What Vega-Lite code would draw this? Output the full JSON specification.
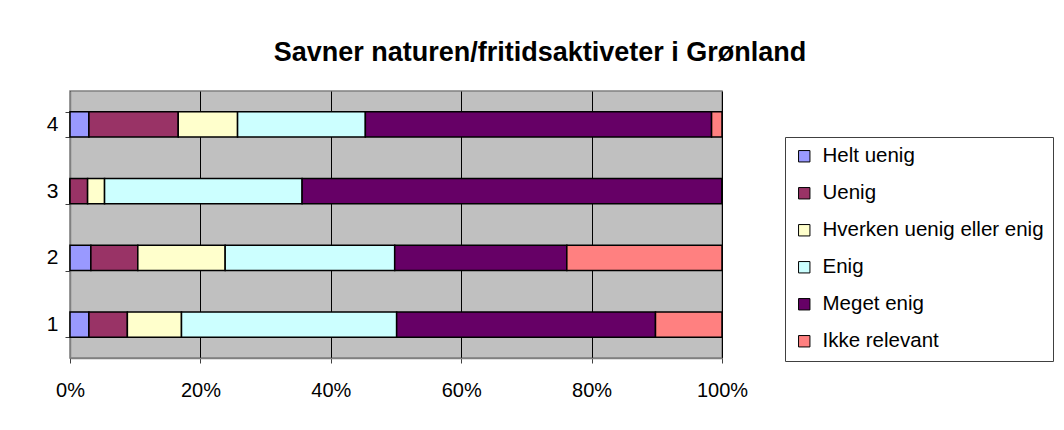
{
  "$schema": "https://vega.github.io/schema/vega-lite/v6.json",
  "autosize": {"type": "none"},
  "width": 652,
  "height": 267,
  "padding": {"left": 70, "top": 91, "right": 342, "bottom": 72},
  "background": "white",
  "title": {
    "text": "Savner naturen/fritidsaktiveter i Grønland",
    "font": "Liberation Sans",
    "fontSize": 27,
    "fontWeight": "bold",
    "color": "black",
    "anchor": "middle",
    "dx": 144,
    "offset": 13
  },
  "data": {
    "values": [
      {"q": "4", "svar": "Helt uenig", "k": 1, "v": 2.9},
      {"q": "4", "svar": "Uenig", "k": 2, "v": 13.7},
      {"q": "4", "svar": "Hverken uenig eller enig", "k": 3, "v": 9.1},
      {"q": "4", "svar": "Enig", "k": 4, "v": 19.6},
      {"q": "4", "svar": "Meget enig", "k": 5, "v": 53.1},
      {"q": "4", "svar": "Ikke relevant", "k": 6, "v": 1.6},
      {"q": "3", "svar": "Helt uenig", "k": 1, "v": 0},
      {"q": "3", "svar": "Uenig", "k": 2, "v": 2.7},
      {"q": "3", "svar": "Hverken uenig eller enig", "k": 3, "v": 2.6},
      {"q": "3", "svar": "Enig", "k": 4, "v": 30.3},
      {"q": "3", "svar": "Meget enig", "k": 5, "v": 64.4},
      {"q": "3", "svar": "Ikke relevant", "k": 6, "v": 0},
      {"q": "2", "svar": "Helt uenig", "k": 1, "v": 3.2},
      {"q": "2", "svar": "Uenig", "k": 2, "v": 7.2},
      {"q": "2", "svar": "Hverken uenig eller enig", "k": 3, "v": 13.4},
      {"q": "2", "svar": "Enig", "k": 4, "v": 26.0},
      {"q": "2", "svar": "Meget enig", "k": 5, "v": 26.4},
      {"q": "2", "svar": "Ikke relevant", "k": 6, "v": 23.8},
      {"q": "1", "svar": "Helt uenig", "k": 1, "v": 2.9},
      {"q": "1", "svar": "Uenig", "k": 2, "v": 5.9},
      {"q": "1", "svar": "Hverken uenig eller enig", "k": 3, "v": 8.3},
      {"q": "1", "svar": "Enig", "k": 4, "v": 33.0},
      {"q": "1", "svar": "Meget enig", "k": 5, "v": 39.7},
      {"q": "1", "svar": "Ikke relevant", "k": 6, "v": 10.2}
    ]
  },
  "mark": {"type": "bar", "stroke": "black", "strokeWidth": 1.5},
  "encoding": {
    "y": {
      "field": "q",
      "type": "nominal",
      "sort": ["4", "3", "2", "1"],
      "scale": {"paddingInner": 0.62, "paddingOuter": 0.31},
      "axis": {
        "title": null,
        "tickBand": "extent",
        "tickSize": 5,
        "tickColor": "#404040",
        "domainColor": "#808080",
        "domainWidth": 1.5,
        "labelFont": "Liberation Sans",
        "labelFontSize": 21,
        "labelColor": "black",
        "labelPadding": 7,
        "labelAngle": 0
      }
    },
    "x": {
      "field": "v",
      "type": "quantitative",
      "stack": "normalize",
      "scale": {"domain": [0, 1], "nice": false},
      "axis": {
        "title": null,
        "format": ".0%",
        "values": [0, 0.2, 0.4, 0.6, 0.8, 1],
        "labelFlush": false,
        "labelOverlap": false,
        "grid": true,
        "gridColor": "black",
        "gridWidth": 1,
        "gridOpacity": 1,
        "ticks": true,
        "tickSize": 5,
        "tickColor": "#404040",
        "domainColor": "#808080",
        "domainWidth": 1.5,
        "labelFont": "Liberation Sans",
        "labelFontSize": 20,
        "labelColor": "black",
        "labelPadding": 17
      }
    },
    "color": {
      "field": "svar",
      "type": "nominal",
      "scale": {
        "domain": ["Helt uenig", "Uenig", "Hverken uenig eller enig", "Enig", "Meget enig", "Ikke relevant"],
        "range": ["#9999FF", "#993366", "#FFFFCC", "#CCFFFF", "#660066", "#FF8080"]
      },
      "legend": {
        "title": null,
        "orient": "none",
        "legendX": 715,
        "legendY": 46,
        "padding": 9,
        "strokeColor": "#404040",
        "fillColor": "white",
        "symbolType": "square",
        "symbolSize": 130,
        "symbolStrokeColor": "black",
        "symbolStrokeWidth": 1,
        "symbolOpacity": 1,
        "labelFont": "Liberation Sans",
        "labelFontSize": 20.5,
        "labelColor": "black",
        "labelLimit": 300,
        "rowPadding": 16,
        "labelOffset": 8
      }
    },
    "order": {"field": "k", "type": "quantitative"}
  },
  "config": {
    "view": {"fill": "#C0C0C0", "stroke": "#808080", "strokeWidth": 1.5}
  }
}
